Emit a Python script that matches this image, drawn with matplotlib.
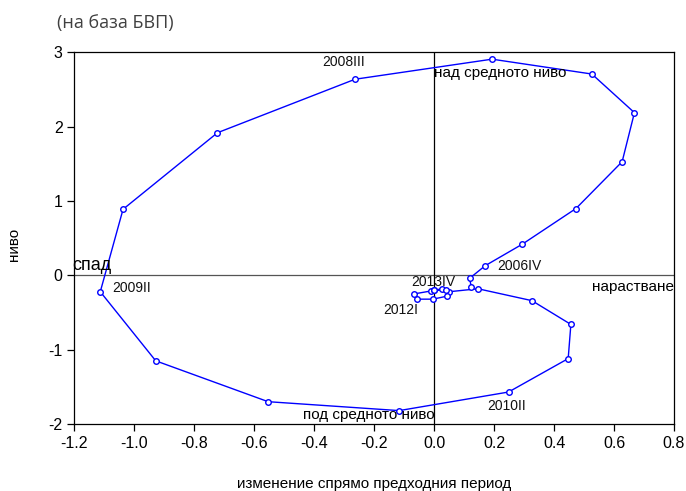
import matplotlib
matplotlib.use("Agg")
import matplotlib.pyplot as plt

# quarters 2006II .. 2013IV
quarters = ["2006II", "2006III", "2006IV",
            "2007I", "2007II", "2007III", "2007IV",
            "2008I", "2008II", "2008III", "2008IV",
            "2009I", "2009II", "2009III", "2009IV",
            "2010I", "2010II", "2010III", "2010IV",
            "2011I", "2011II", "2011III", "2011IV",
            "2012I", "2012II", "2012III", "2012IV",
            "2013I", "2013II", "2013III", "2013IV"]
change = [0.124, 0.118, 0.170,
          0.294, 0.473, 0.627, 0.668,
          0.526, 0.193, -0.264, -0.723,
          -1.038, -1.114, -0.929, -0.554,
          -0.117, 0.248, 0.447, 0.456,
          0.326, 0.146, 0.050, 0.042,
          -0.004, -0.057, -0.068, -0.011,
          0.001, 0.026, 0.040, 0.000]
level = [-0.16, -0.04, 0.13,
         0.42, 0.90, 1.53, 2.19,
         2.71, 2.91, 2.64, 1.92,
         0.89, -0.22, -1.15, -1.70,
         -1.82, -1.57, -1.12, -0.66,
         -0.34, -0.18, -0.22, -0.28,
         -0.32, -0.32, -0.25, -0.21,
         -0.20, -0.18, -0.20, -0.20]
labelled = ["2006IV", "2008III", "2009II", "2010II", "2012I", "2013IV"]
xticks = [-1.2, -1.0, -0.8, -0.6, -0.4, -0.2, 0.0, 0.2, 0.4, 0.6, 0.8]
yticks = [-2, -1, 0, 1, 2, 3]

plt.rcParams['font.family'] = ['Liberation Sans', 'DejaVu Sans']
plt.rcParams['axes.unicode_minus'] = False

fig = plt.figure(figsize=(6.86, 4.91), dpi=100)
ax = fig.add_axes([0.1086, 0.1365, 0.8739, 0.7566])

ax.axhline(0, color="#555555", lw=0.9, zorder=1)
ax.axvline(0, color="black", lw=0.9, zorder=1)
ax.plot(change, level, color="#0000ff", lw=1.0, marker="o", ms=4,
        mfc="white", mec="#0000ff", mew=1.0, zorder=3)

# quarter labels: offsets in points from the point
offsets = {"2006IV": (8.9, 0), "2008III": (-23.3, 12.7),
           "2009II": (8.6, 2.4), "2010II": (-15.1, -10),
           "2012I": (-36, -7.7), "2013IV": (-16.8, 6)}
for q in labelled:
    i = quarters.index(q)
    dx, dy = offsets[q]
    ax.annotate(q, (change[i], level[i]), xytext=(dx, dy),
                textcoords="offset points", ha="left", va="center",
                fontsize=10, color="#111111")

ax.text(0.0, 2.728, "над средното ниво", ha="left", va="center", fontsize=11)
ax.text(0.0, -1.879, "под средното ниво", ha="right", va="center", fontsize=11)
ax.text(-1.208, 0.13, "спад", ha="left", va="center", fontsize=13, clip_on=False)
ax.text(0.8, -0.156, "нарастване", ha="right", va="center", fontsize=11)

ax.set_xlim(-1.2, 0.8)
ax.set_ylim(-2, 3)
ax.set_xticks(xticks)
ax.set_xticklabels([f"{t:.1f}" for t in xticks])
ax.set_yticks(yticks)
ax.tick_params(direction="out", length=5, width=0.9, labelsize=11.5,
               top=False, right=False)
for s in ax.spines.values():
    s.set_linewidth(0.9)

ax.set_xlabel("изменение спрямо предходния период", fontsize=11)
ax.xaxis.set_label_coords(0.5, -0.142)
ax.set_ylabel("ниво", fontsize=11)
ax.yaxis.set_label_coords(-0.089, 0.482)

fig.text(57 / 686, 1 - 22.7 / 491, "(на база БВП)", ha="left", va="center",
         fontsize=13, color="#404040", family=["Open Sans", "DejaVu Sans"])

fig.savefig("out.png", dpi=100)
